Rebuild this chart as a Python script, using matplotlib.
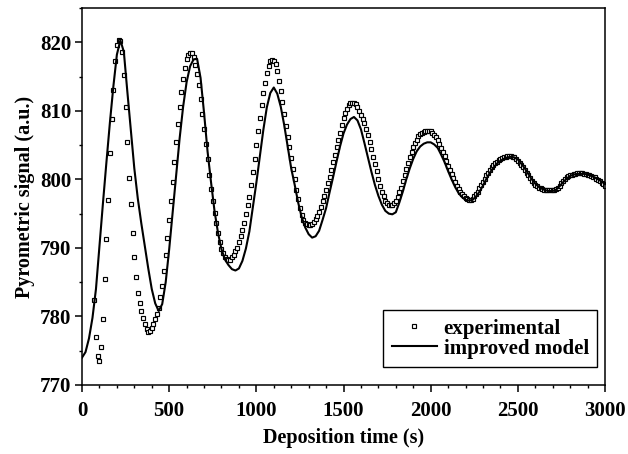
import matplotlib
matplotlib.use("Agg")
import matplotlib.pyplot as plt
import numpy as np
from matplotlib.ticker import MultipleLocator

plt.rcParams['font.family'] = 'Liberation Serif'
plt.rcParams['font.weight'] = 'bold'
plt.rcParams['font.size'] = 15

# experimental pyrometric signal, one point every 10 s from 70 s
exp_time = np.arange(70, 3001, 10)
exp_signal = [
    782.4, 777.0, 774.3,
    773.5, 775.6, 779.7, 785.5, 791.3, 797.0, 803.8, 808.8, 813.0, 817.2,   # 100-190
    819.6, 820.4, 820.2, 818.6, 815.2, 810.6, 805.5, 800.2, 796.4, 792.2,   # 200-290
    788.6, 785.8, 783.4, 781.9, 780.8, 779.8, 778.9, 778.2, 777.8, 777.9,   # 300-390
    778.3, 778.9, 779.6, 780.4, 781.3, 782.8, 784.5, 786.6, 788.9, 791.4,   # 400-490
    794.0, 796.8, 799.6, 802.5, 805.4, 808.1, 810.6, 812.8, 814.7, 816.3,   # 500-590
    817.5, 818.2, 818.5, 818.4, 817.8, 816.7, 815.3, 813.7, 811.7, 809.6,   # 600-690
    807.4, 805.2, 802.9, 800.6, 798.6, 796.8, 795.1, 793.6, 792.2, 790.9,   # 700-790
    789.9, 789.2, 788.7, 788.4, 788.3, 788.3, 788.6, 789.0, 789.5, 790.0,   # 800-890
    790.8, 791.7, 792.6, 793.6, 795.0, 796.2, 797.4, 799.2, 801.1, 803.0,   # 900-990
    805.0, 807.0, 809.0, 810.9, 812.6, 814.1, 815.5, 816.6, 817.2, 817.4,   # 1000-1090
    817.3, 816.8, 815.8, 814.4, 812.9, 811.3, 809.5, 807.8, 806.2, 804.7,   # 1100-1190
    803.1, 801.5, 800.0, 798.5, 797.1, 795.8, 794.8, 794.1, 793.7, 793.5,   # 1200-1290
    793.4, 793.4, 793.5, 793.8, 794.2, 794.7, 795.2, 795.9, 796.8, 797.6,   # 1300-1390
    798.4, 799.4, 800.4, 801.4, 802.5, 803.6, 804.7, 805.8, 806.8, 807.9,   # 1400-1490
    808.9, 809.7, 810.3, 810.8, 811.1, 811.2, 811.2, 811.0, 810.6, 810.0,   # 1500-1590
    809.4, 808.8, 808.2, 807.4, 806.5, 805.5, 804.4, 803.3, 802.3, 801.2,   # 1600-1690
    800.1, 799.1, 798.2, 797.5, 796.9, 796.5, 796.3, 796.2, 796.3, 796.6,   # 1700-1790
    796.9, 797.4, 798.1, 798.8, 799.7, 800.6, 801.5, 802.4, 803.2, 804.0,   # 1800-1890
    804.7, 805.3, 805.8, 806.3, 806.6, 806.8, 806.9, 807.0, 807.1, 807.1,   # 1900-1990
    807.0, 806.8, 806.5, 806.2, 805.7, 805.2, 804.6, 804.0, 803.4, 802.7,   # 2000-2090
    802.0, 801.4, 800.8, 800.2, 799.6, 799.1, 798.6, 798.2, 797.9, 797.6,   # 2100-2190
    797.3, 797.1, 797.0, 797.0, 797.2, 797.5, 797.8, 798.2, 798.7, 799.2,   # 2200-2290
    799.6, 800.1, 800.6, 801.0, 801.4, 801.8, 802.1, 802.4, 802.6, 802.8,   # 2300-2390
    803.0, 803.1, 803.2, 803.3, 803.4, 803.4, 803.4, 803.3, 803.2, 803.0,   # 2400-2490
    802.7, 802.4, 802.1, 801.8, 801.4, 801.0, 800.6, 800.2, 799.8, 799.5,   # 2500-2590
    799.2, 799.0, 798.8, 798.7, 798.6, 798.5, 798.5, 798.4, 798.4, 798.4,   # 2600-2690
    798.4, 798.5, 798.6, 798.8, 799.1, 799.5, 799.8, 800.1, 800.3, 800.5,   # 2700-2790
    800.6, 800.7, 800.8, 800.8, 800.9, 800.9, 800.9, 800.9, 800.8, 800.8,   # 2800-2890
    800.7, 800.6, 800.5, 800.4, 800.3, 800.1, 799.9, 799.7, 799.5, 799.3,   # 2900-2990
    799.1,
]

# improved model, every 20 s
model_time = np.arange(0, 3001, 20)
model_signal = [
    774.0, 774.8, 776.8, 779.8, 784.0, 790.3, 796.5, 802.5, 808.3, 813.6,   # 0-180
    818.2, 820.3, 818.6, 812.8, 807.2, 801.6, 797.2, 793.6, 790.3, 787.0,   # 200-380
    784.0, 781.9, 780.8, 781.8, 785.0, 789.8, 795.2, 800.6, 806.0, 810.6,   # 400-580
    814.2, 816.5, 817.5, 817.6, 814.8, 809.7, 804.1, 799.6, 795.4, 792.2,   # 600-780
    789.8, 788.3, 787.5, 786.9, 786.7, 787.0, 788.1, 789.9, 792.4, 795.9,   # 800-980
    799.5, 803.3, 807.2, 810.5, 812.6, 813.4, 812.5, 810.6, 807.9, 804.8,   # 1000-1180
    801.6, 799.2, 796.6, 794.5, 793.0, 792.0, 791.5, 791.7, 792.5, 794.1,   # 1200-1380
    795.8, 798.1, 800.3, 802.6, 804.8, 806.7, 808.0, 808.8, 809.1, 808.6,   # 1400-1580
    807.3, 805.3, 803.2, 801.1, 799.2, 797.6, 796.3, 795.4, 795.0, 794.9,   # 1600-1780
    795.2, 796.6, 798.2, 800.0, 801.6, 803.0, 804.1, 804.8, 805.2, 805.4,   # 1800-1980
    805.4, 805.1, 804.6, 803.6, 802.5, 801.2, 800.0, 798.9, 798.0, 797.4,   # 2000-2180
    797.0, 796.9, 797.0, 797.5, 798.2, 799.1, 800.1, 801.0, 801.7, 802.3,   # 2200-2380
    802.7, 803.0, 803.2, 803.3, 803.2, 802.9, 802.3, 801.6, 800.8, 800.0,   # 2400-2580
    799.4, 798.9, 798.6, 798.4, 798.3, 798.3, 798.5, 799.0, 799.6, 800.1,   # 2600-2780
    800.5, 800.7, 800.8, 800.8, 800.8, 800.7, 800.5, 800.3, 800.0, 799.7,   # 2800-2980
    799.3,
]

fig = plt.figure(figsize=(6.28, 4.54), dpi=100)
ax = fig.add_axes([0.1306, 0.152, 0.8328, 0.8304])

ax.plot(exp_time, exp_signal, linestyle='none', marker='s', markersize=2.6,
        markerfacecolor='white', markeredgecolor='black', markeredgewidth=0.85,
        label='experimental')
ax.plot(model_time, model_signal, color='black', linewidth=1.5, label='improved model')

ax.set_xlim(0, 3000)
ax.set_ylim(770, 825)
ax.xaxis.set_major_locator(MultipleLocator(500))
ax.xaxis.set_minor_locator(MultipleLocator(100))
ax.yaxis.set_major_locator(MultipleLocator(10))
ax.yaxis.set_minor_locator(MultipleLocator(5))
ax.tick_params(which='major', direction='out', length=5, width=1.1, top=False, right=False)
ax.tick_params(which='minor', direction='out', length=2.5, width=1.0, top=False, right=False)
ax.tick_params(axis='x', which='major', pad=6.5)
ax.tick_params(axis='y', which='major', pad=2.5)
for s in ax.spines.values():
    s.set_linewidth(1.1)

ax.set_xlabel('Deposition time (s)', fontsize=14.5, fontweight='bold', labelpad=5)
ax.set_ylabel('Pyrometric signal (a.u.)', fontsize=14.5, fontweight='bold', labelpad=4)

leg = ax.legend(loc='lower right', bbox_to_anchor=(0.985, 0.048), borderaxespad=0,
                numpoints=1, fancybox=False, framealpha=1, edgecolor='black',
                handlelength=2.2, handletextpad=0.3, labelspacing=0.0,
                borderpad=0.4, markerscale=1.0, fontsize=15)
leg.get_frame().set_linewidth(1.0)
for t in leg.get_texts():
    t.set_fontweight('bold')

plt.savefig('out.png', dpi=100)
